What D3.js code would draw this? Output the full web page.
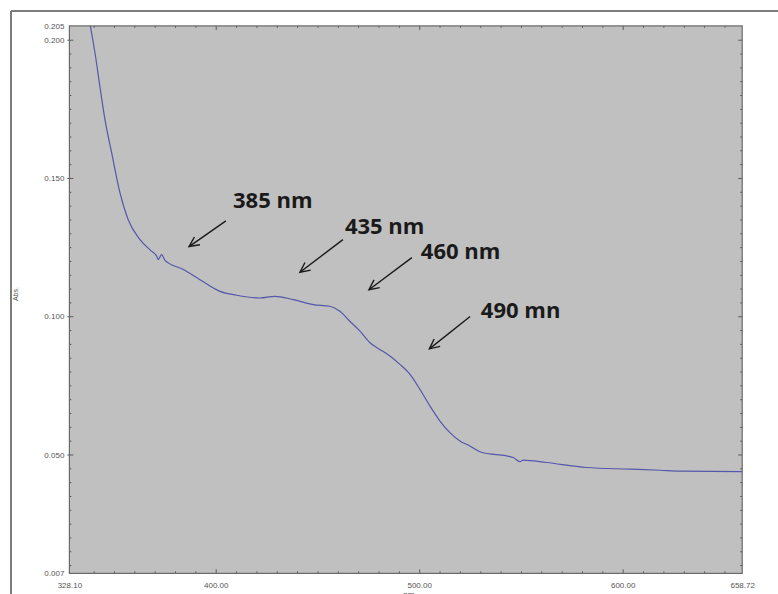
<!DOCTYPE html>
<html>
<head>
<meta charset="utf-8">
<script src="https://cdn.jsdelivr.net/npm/d3@7"></script>
<style>
  body { margin: 0; background: #fff; }
  svg { display: block; }
</style>
</head>
<body>
<svg id="chart" width="778" height="594"></svg>
<script>
// UV-Vis absorption spectrum: wavelength (nm) vs absorbance
const wavelength = [338.2, 340.7, 343.1, 345.6, 348.9, 353.0, 357.0, 362.8, 368.0, 371.0, 371.8, 373.4,
  375.1, 384.1, 392.3, 402.1, 410.3, 421.7, 429.1, 438.1, 447.9, 456.1, 461.0, 465.9, 470.9, 475.8,
  480.7, 485.6, 490.5, 495.5, 500.4, 505.3, 510.2, 515.1, 520.0, 524.9, 529.8, 546.2, 549.5, 551.1,
  562.6, 582.2, 603.5, 618.3, 628.1, 658.7];
const absorbance = [0.2057, 0.1951, 0.1830, 0.1710, 0.1590, 0.1445, 0.1349, 0.1277, 0.1238, 0.1217, 0.1205, 0.1223,
  0.1202, 0.1169, 0.1132, 0.1090, 0.1076, 0.1066, 0.1072, 0.1060, 0.1042, 0.1036, 0.1018, 0.0982, 0.0946, 0.0904,
  0.0880, 0.0856, 0.0826, 0.0790, 0.0735, 0.0675, 0.0621, 0.0579, 0.0549, 0.0531, 0.0510, 0.0489, 0.0474, 0.0480,
  0.0471, 0.0453, 0.0447, 0.0443, 0.0440, 0.0438];

const xDomain = [328.10, 658.72];
const yDomain = [0.007, 0.205];
const xTickLabels = [328.10, 400, 500, 600, 658.72];
const yTickLabels = [0.007, 0.050, 0.100, 0.150, 0.200, 0.205];
const xTitle = "nm";
const yTitle = "Abs.";

// Peak callouts: label, arrow tail, arrow tip and label anchor in (nm, Abs) units
const peakLabels = ["385 nm", "435 nm", "460 nm", "490 mn"];
const arrowTails = [[405.0, 0.1345], [462.5, 0.1277], [496.4, 0.1212], [525.0, 0.0999]];
const arrowTips  = [[386.9, 0.1252], [441.4, 0.1159], [475.3, 0.1096], [505.0, 0.0882]];
const labelAnchors = [[408.5, 0.1392], [463.5, 0.1299], [500.8, 0.1208], [530.3, 0.0992]];

const svg = d3.select("#chart");
const plot = { left: 69.4, right: 742.2, top: 25.9, bottom: 573.4 };

const x = d3.scaleLinear().domain(xDomain).range([plot.left, plot.right]);
const y = d3.scaleLinear().domain(yDomain).range([plot.bottom, plot.top]);

// outer window frame (left and top edges)
svg.append("line").attr("x1", 11).attr("y1", 11).attr("x2", 778).attr("y2", 11)
  .attr("stroke", "#7d7d7d").attr("stroke-width", 2);
svg.append("line").attr("x1", 11).attr("y1", 11).attr("x2", 11).attr("y2", 594)
  .attr("stroke", "#7d7d7d").attr("stroke-width", 2);

// plot background
svg.append("rect")
  .attr("x", plot.left).attr("y", plot.top)
  .attr("width", plot.right - plot.left).attr("height", plot.bottom - plot.top)
  .attr("fill", "#c0c0c0");

const tickColor = "#5a5a5a";
const xMinor = d3.range(34, 66).map(i => i * 10).filter(v => v % 100 !== 0);
const xMajor = [400, 500, 600];
const yMinor = d3.range(2, 41).map(i => +(i * 0.005).toFixed(3)).filter(v => Math.round(v * 1000) % 50 !== 0);
const yMajor = [0.050, 0.100, 0.150, 0.200];

function styleAxis(g) {
  g.select(".domain").remove();
  g.selectAll("line").attr("stroke", tickColor).attr("stroke-width", 1);
}

// tick marks on all four sides (inward)
const axBottom = svg.append("g").attr("transform", `translate(0,${plot.bottom})`);
axBottom.append("g").call(d3.axisBottom(x).tickValues(xMinor).tickSize(-2).tickFormat("")).call(styleAxis);
axBottom.append("g").call(d3.axisBottom(x).tickValues(xMajor).tickSize(-4).tickFormat("")).call(styleAxis);
const axTop = svg.append("g").attr("transform", `translate(0,${plot.top})`);
axTop.append("g").call(d3.axisTop(x).tickValues(xMinor).tickSize(-2).tickFormat("")).call(styleAxis);
axTop.append("g").call(d3.axisTop(x).tickValues(xMajor).tickSize(-4).tickFormat("")).call(styleAxis);
const axLeft = svg.append("g").attr("transform", `translate(${plot.left},0)`);
axLeft.append("g").call(d3.axisLeft(y).tickValues(yMinor).tickSize(-2).tickFormat("")).call(styleAxis);
axLeft.append("g").call(d3.axisLeft(y).tickValues(yMajor).tickSize(-4).tickFormat("")).call(styleAxis);
axLeft.append("g").call(d3.axisLeft(y).tickValues(yMajor).tickSize(2).tickFormat("")).call(styleAxis);
const axRight = svg.append("g").attr("transform", `translate(${plot.right},0)`);
axRight.append("g").call(d3.axisRight(y).tickValues(yMinor).tickSize(-2).tickFormat("")).call(styleAxis);
axRight.append("g").call(d3.axisRight(y).tickValues(yMajor).tickSize(-4).tickFormat("")).call(styleAxis);

// tick labels
const xLab = svg.append("g").attr("transform", `translate(0,${plot.bottom + 6})`)
  .call(d3.axisBottom(x).tickValues(xTickLabels).tickSize(0).tickFormat(d3.format(".2f")));
xLab.select(".domain").remove();
xLab.selectAll("text").attr("font-family", "Liberation Sans, Arial, sans-serif")
  .attr("font-size", 8).attr("fill", "#555");
const yLab = svg.append("g").attr("transform", `translate(${plot.left - 2},0)`)
  .call(d3.axisLeft(y).tickValues(yTickLabels).tickSize(0).tickFormat(d3.format(".3f")));
yLab.select(".domain").remove();
yLab.selectAll("text").attr("font-family", "Liberation Sans, Arial, sans-serif")
  .attr("font-size", 8).attr("fill", "#555");

// axis titles
svg.append("text").attr("x", x(500) - 16).attr("y", 597)
  .attr("font-family", "Liberation Sans, Arial, sans-serif").attr("font-size", 8).attr("fill", "#555")
  .text(xTitle);
svg.append("text").attr("transform", `translate(18,${y(0.108)}) rotate(-90)`)
  .attr("text-anchor", "middle")
  .attr("font-family", "Liberation Sans, Arial, sans-serif").attr("font-size", 7).attr("fill", "#555")
  .text(yTitle);

// plot frame
svg.append("rect")
  .attr("x", plot.left).attr("y", plot.top)
  .attr("width", plot.right - plot.left).attr("height", plot.bottom - plot.top)
  .attr("fill", "none").attr("stroke", "#6a6a6a").attr("stroke-width", 1.2);

// spectrum
svg.append("clipPath").attr("id", "plot-clip").append("rect")
  .attr("x", plot.left).attr("y", plot.top)
  .attr("width", plot.right - plot.left).attr("height", plot.bottom - plot.top);
const line = d3.line()
  .x(i => x(wavelength[i]))
  .y(i => y(absorbance[i]))
  .curve(d3.curveMonotoneX);
svg.append("path")
  .attr("clip-path", "url(#plot-clip)")
  .attr("d", line(d3.range(wavelength.length)))
  .attr("fill", "none").attr("stroke", "#5656aa").attr("stroke-width", 1.2);

// callout arrows and labels
peakLabels.forEach((label, i) => {
  const [x0, y0] = [x(arrowTails[i][0]), y(arrowTails[i][1])];
  const [x1, y1] = [x(arrowTips[i][0]), y(arrowTips[i][1])];
  const a = Math.atan2(y1 - y0, x1 - x0);
  const head = 11, spread = Math.PI / 7;
  const g = svg.append("g").attr("stroke", "#1a1a1a").attr("stroke-width", 1.4).attr("fill", "none");
  g.append("line").attr("x1", x0).attr("y1", y0).attr("x2", x1).attr("y2", y1);
  g.append("path").attr("d",
    `M${x1 - head * Math.cos(a - spread)},${y1 - head * Math.sin(a - spread)}` +
    `L${x1},${y1}` +
    `L${x1 - head * Math.cos(a + spread)},${y1 - head * Math.sin(a + spread)}`);
  svg.append("text")
    .attr("x", x(labelAnchors[i][0])).attr("y", y(labelAnchors[i][1]))
    .attr("font-family", "Open Sans, sans-serif").attr("font-weight", "bold")
    .attr("font-size", 22).attr("fill", "#1a1a1a")
    .text(label);
});
</script>
</body>
</html>
